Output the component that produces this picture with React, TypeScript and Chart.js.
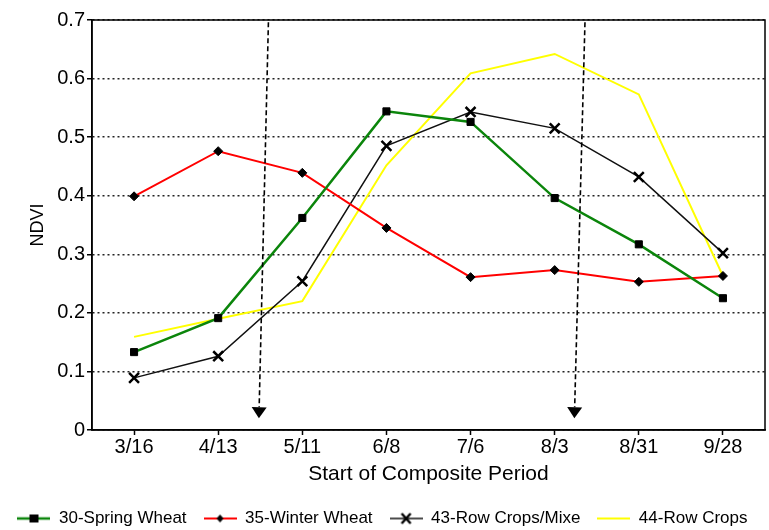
import React, { useEffect, useRef } from 'react';
import { Chart, registerables } from 'chart.js';

Chart.register(...registerables);

// ---- data ----
const categories = ['3/16', '4/13', '5/11', '6/8', '7/6', '8/3', '8/31', '9/28'];
const springWheat = [0.133, 0.191, 0.362, 0.544, 0.526, 0.396, 0.317, 0.225];
const winterWheat = [0.399, 0.476, 0.439, 0.345, 0.261, 0.273, 0.253, 0.263];
const rowCropsMixed = [0.089, 0.126, 0.254, 0.485, 0.543, 0.515, 0.432, 0.302];
const rowCrops = [0.159, 0.19, 0.22, 0.452, 0.609, 0.642, 0.573, 0.263];
const seriesNames = ['30-Spring Wheat', '35-Winter Wheat', '43-Row Crops/Mixe', '44-Row Crops'];
const yMin = 0;
const yMax = 0.7;
const yStep = 0.1;
const xTitle = 'Start of Composite Period';
const yTitle = 'NDVI';
// vertical dashed arrows (category index at top / tip, value at top / tip)
const arrowTopIndex = [1.597, 5.36];
const arrowTipIndex = [1.484, 5.234];
const arrowTopValue = 0.696;
const arrowTipValue = 0.02;

const FONT = "'Liberation Sans', Arial, Helvetica, sans-serif";
const GREEN = '#0b850b';
const RED = '#ff0000';
const BLACK = '#111111';
const YELLOW = '#ffff00';

function makeIcon(color: string, lw: number, marker: string): HTMLCanvasElement {
  const c = document.createElement('canvas');
  c.width = 33;
  c.height = 14;
  const ctx = c.getContext('2d')!;
  ctx.strokeStyle = color;
  ctx.lineWidth = lw;
  ctx.beginPath();
  ctx.moveTo(0, 7);
  ctx.lineTo(33, 7);
  ctx.stroke();
  ctx.fillStyle = '#000';
  ctx.strokeStyle = '#000';
  if (marker === 'rect') {
    ctx.fillRect(12, 3, 9, 8);
  } else if (marker === 'rectRot') {
    ctx.beginPath();
    ctx.moveTo(16.5, 3);
    ctx.lineTo(20, 7);
    ctx.lineTo(16.5, 11);
    ctx.lineTo(13, 7);
    ctx.closePath();
    ctx.fill();
  } else if (marker === 'crossRot') {
    ctx.lineWidth = 2.5;
    ctx.beginPath();
    ctx.moveTo(12, 2);
    ctx.lineTo(21, 12);
    ctx.moveTo(21, 2);
    ctx.lineTo(12, 12);
    ctx.stroke();
  }
  return c;
}

const framePlugin = {
  id: 'frame',
  afterDraw(chart: any) {
    const { ctx, chartArea } = chart;
    const { left, top, right, bottom } = chartArea;
    ctx.save();
    ctx.strokeStyle = '#000';
    ctx.lineWidth = 1.5;
    ctx.strokeRect(left, top, right - left, bottom - top);
    ctx.restore();
  },
};

const arrowPlugin = {
  id: 'arrows',
  afterDatasetsDraw(chart: any) {
    const { ctx } = chart;
    const xs = chart.scales.x;
    const ys = chart.scales.y;
    ctx.save();
    for (let i = 0; i < arrowTopIndex.length; i++) {
      const x1 = xs.getPixelForValue(arrowTopIndex[i]);
      const y1 = ys.getPixelForValue(arrowTopValue);
      const x2 = xs.getPixelForValue(arrowTipIndex[i]);
      const y2 = ys.getPixelForValue(arrowTipValue);
      const headH = 11;
      const headW = 15;
      const ang = Math.atan2(y2 - y1, x2 - x1);
      const bx = x2 - Math.cos(ang) * headH;
      const by = y2 - Math.sin(ang) * headH;
      ctx.strokeStyle = '#000';
      ctx.lineWidth = 1.6;
      ctx.setLineDash([5, 3]);
      ctx.beginPath();
      ctx.moveTo(x1, y1);
      ctx.lineTo(bx, by);
      ctx.stroke();
      ctx.setLineDash([]);
      const px = -Math.sin(ang);
      const py = Math.cos(ang);
      ctx.fillStyle = '#000';
      ctx.beginPath();
      ctx.moveTo(x2, y2);
      ctx.lineTo(bx + px * headW / 2, by + py * headW / 2);
      ctx.lineTo(bx - px * headW / 2, by - py * headW / 2);
      ctx.closePath();
      ctx.fill();
    }
    ctx.restore();
  },
};

export default function App() {
  const ref = useRef<HTMLCanvasElement | null>(null);

  useEffect(() => {
    document.body.style.margin = '0';
    document.body.style.overflow = 'hidden';
    const canvas = ref.current;
    if (!canvas) return;
    const icons = [
      makeIcon(GREEN, 2.5, 'rect'),
      makeIcon(RED, 2, 'rectRot'),
      makeIcon(BLACK, 1.5, 'crossRot'),
      makeIcon(YELLOW, 2, 'none'),
    ];

    const chart = new Chart(canvas, {
      type: 'line',
      data: {
        labels: categories,
        datasets: [
          {
            label: seriesNames[0],
            data: springWheat,
            borderColor: GREEN,
            borderWidth: 2.5,
            pointStyle: 'rect',
            pointRadius: 5,
            pointBackgroundColor: '#000',
            pointBorderColor: '#000',
            pointBorderWidth: 1,
            tension: 0,
          },
          {
            label: seriesNames[1],
            data: winterWheat,
            borderColor: RED,
            borderWidth: 2,
            pointStyle: 'rectRot',
            pointRadius: 4.5,
            pointBackgroundColor: '#000',
            pointBorderColor: '#000',
            pointBorderWidth: 1,
            tension: 0,
          },
          {
            label: seriesNames[2],
            data: rowCropsMixed,
            borderColor: BLACK,
            borderWidth: 1.5,
            pointStyle: 'crossRot',
            pointRadius: 7,
            pointBackgroundColor: '#000',
            pointBorderColor: '#000',
            pointBorderWidth: 2.5,
            tension: 0,
          },
          {
            label: seriesNames[3],
            data: rowCrops,
            borderColor: YELLOW,
            borderWidth: 2,
            pointRadius: 0,
            tension: 0,
          },
        ],
      },
      options: {
        responsive: false,
        animation: false,
        events: [],
        layout: { autoPadding: false, padding: { top: 20, right: 4, left: 0, bottom: -7 } },
        plugins: {
          tooltip: { enabled: false },
          legend: {
            display: true,
            position: 'bottom',
            labels: {
              usePointStyle: true,
              pointStyleWidth: 33,
              padding: 17,
              color: '#000',
              font: { family: FONT, size: 17 },
              generateLabels(chart: any) {
                const items = (Chart as any).defaults.plugins.legend.labels.generateLabels(chart);
                items.forEach((it: any, i: number) => {
                  it.pointStyle = icons[i];
                  it.fontColor = '#000';
                  it.lineWidth = 0;
                });
                return items;
              },
            },
          },
        },
        scales: {
          x: {
            type: 'category',
            offset: true,
            afterFit(scale: any) {
              scale.height = 63;
              scale.paddingLeft = 0;
              scale.paddingRight = 0;
            },
            grid: {
              display: true,
              drawOnChartArea: false,
              drawTicks: true,
              tickLength: 5,
              tickColor: '#000',
              tickWidth: 1.5,
              color: '#000',
            },
            border: { display: true, color: '#000', width: 1.5 },
            ticks: {
              color: '#000',
              padding: 0,
              maxRotation: 0,
              autoSkip: false,
              font: { family: FONT, size: 20 },
            },
            title: {
              display: true,
              text: xTitle,
              color: '#000',
              font: { family: FONT, size: 21 },
              padding: { top: 0, bottom: 6 },
            },
          },
          y: {
            min: yMin,
            max: yMax,
            afterFit(scale: any) {
              scale.width = 92;
            },
            grid: {
              color: '#222',
              lineWidth: 1.5,
              drawTicks: true,
              tickLength: 5,
              tickColor: '#000',
              tickWidth: 1.5,
              tickBorderDash: [],
            },
            border: { display: true, color: '#000', width: 1.5, dash: [2, 3] },
            ticks: {
              stepSize: yStep,
              color: '#000',
              padding: 2,
              font: { family: FONT, size: 20 },
              callback: (v: any) => String(Number(Number(v).toFixed(1))),
            },
            title: {
              display: true,
              text: yTitle,
              color: '#000',
              font: { family: FONT, size: 18 },
              padding: { top: 27, bottom: 0 },
            },
          },
        },
      },
      plugins: [framePlugin, arrowPlugin],
    } as any);

    return () => chart.destroy();
  }, []);

  return (
    <div style={{ width: 769, height: 530, position: 'relative' }}>
      <canvas ref={ref} width={769} height={530} style={{ display: 'block' }} />
    </div>
  );
}
